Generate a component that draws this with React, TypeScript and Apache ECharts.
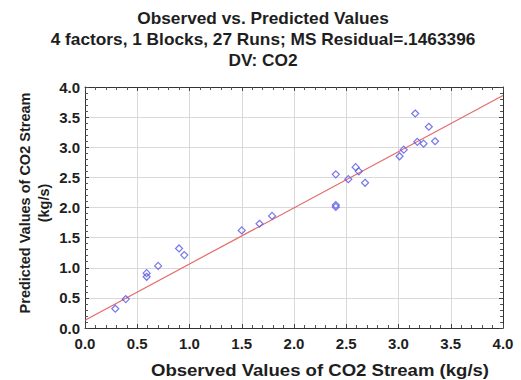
import React, { useEffect, useRef } from "react";
import * as echarts from "echarts";

const observed = [0.29, 0.39, 0.59, 0.59, 0.70, 0.90, 0.95, 1.50, 1.67, 1.79, 2.40, 2.40, 2.40, 2.52, 2.59, 2.62, 2.68, 3.01, 3.05, 3.16, 3.18, 3.24, 3.29, 3.35];
const predicted = [0.32, 0.48, 0.91, 0.85, 1.03, 1.32, 1.21, 1.62, 1.73, 1.86, 2.55, 2.04, 2.01, 2.47, 2.67, 2.60, 2.41, 2.85, 2.96, 3.56, 3.09, 3.06, 3.34, 3.10];
const fitX = [0, 4];
const fitY = [0.13, 3.86];
const titleLines = [
  "Observed vs. Predicted Values",
  "4 factors, 1 Blocks, 27 Runs; MS Residual=.1463396",
  "DV: CO2",
];
const xAxisTitle = "Observed Values of CO2 Stream (kg/s)";
const yAxisTitle = "Predicted Values of CO2 Stream\n(kg/s)";

export default function App() {
  const ref = useRef<HTMLDivElement>(null);
  useEffect(() => {
    document.body.style.margin = "0";
    document.body.style.overflow = "hidden";
    if (!ref.current) return;
    const chart = echarts.init(ref.current, null, { renderer: "svg" });
    const font = "'Liberation Sans', Arial, sans-serif";
    const txt = "#1e1e1e";
    const base = {
      type: "value",
      min: 0,
      max: 4,
      interval: 0.5,
      axisLine: { show: true, onZero: false, lineStyle: { color: "#333", width: 1 } },
      axisTick: { show: true, inside: true, length: 4, lineStyle: { color: "#444" } },
      minorTick: { show: true, splitNumber: 5, length: 3, lineStyle: { color: "#555", width: 1 } },
      splitLine: { show: true, lineStyle: { color: "#d9d9d9", width: 1 } },
      axisLabel: {
        fontFamily: font,
        fontWeight: "bold",
        fontSize: 15,
        color: txt,
        formatter: (v: number) => v.toFixed(1),
      },
    };
    const mirror = {
      ...base,
      splitLine: { show: false },
      axisLabel: { show: false },
    };
    const titleGraphics = titleLines.map((t, i) => ({
      type: "text",
      x: 263,
      y: [19, 40, 61][i],
      scaleX: 1.08,
      style: {
        text: t,
        fontFamily: font,
        fontWeight: "bold",
        fontSize: 16,
        fill: txt,
        align: "center",
        verticalAlign: "middle",
      },
    }));
    chart.setOption({
      animation: false,
      backgroundColor: "#fff",
      grid: { left: 85, right: 18, top: 87, bottom: 52, show: false },
      xAxis: [
        { ...base, position: "bottom", axisLabel: { ...base.axisLabel, margin: 8 } },
        { ...mirror, position: "top" },
      ],
      yAxis: [
        { ...base, position: "left", axisLabel: { ...base.axisLabel, margin: 5 } },
        { ...mirror, position: "right" },
      ],
      graphic: [
        ...titleGraphics,
        {
          type: "text",
          x: 320,
          y: 370,
          scaleX: 1.16,
          style: {
            text: xAxisTitle,
            fontFamily: font,
            fontWeight: "bold",
            fontSize: 16,
            fill: txt,
            align: "center",
            verticalAlign: "middle",
          },
        },
        {
          type: "text",
          x: 34,
          y: 203,
          rotation: Math.PI / 2,
          style: {
            text: yAxisTitle,
            fontFamily: font,
            fontWeight: "bold",
            fontSize: 14.5,
            lineHeight: 19,
            fill: txt,
            align: "center",
            verticalAlign: "middle",
          },
        },
      ],
      series: [
        {
          type: "line",
          data: fitX.map((x, i) => [x, fitY[i]]),
          showSymbol: false,
          symbol: "none",
          lineStyle: { color: "#e46a6a", width: 1.2 },
          z: 2,
        },
        {
          type: "scatter",
          data: observed.map((x, i) => [x, predicted[i]]),
          symbol: "diamond",
          symbolSize: 7,
          itemStyle: { color: "rgba(0,0,0,0)", borderColor: "#5555e8", borderWidth: 1.2 },
          z: 3,
        },
      ],
    });
    return () => chart.dispose();
  }, []);
  return <div ref={ref} style={{ width: 521, height: 380 }} />;
}
